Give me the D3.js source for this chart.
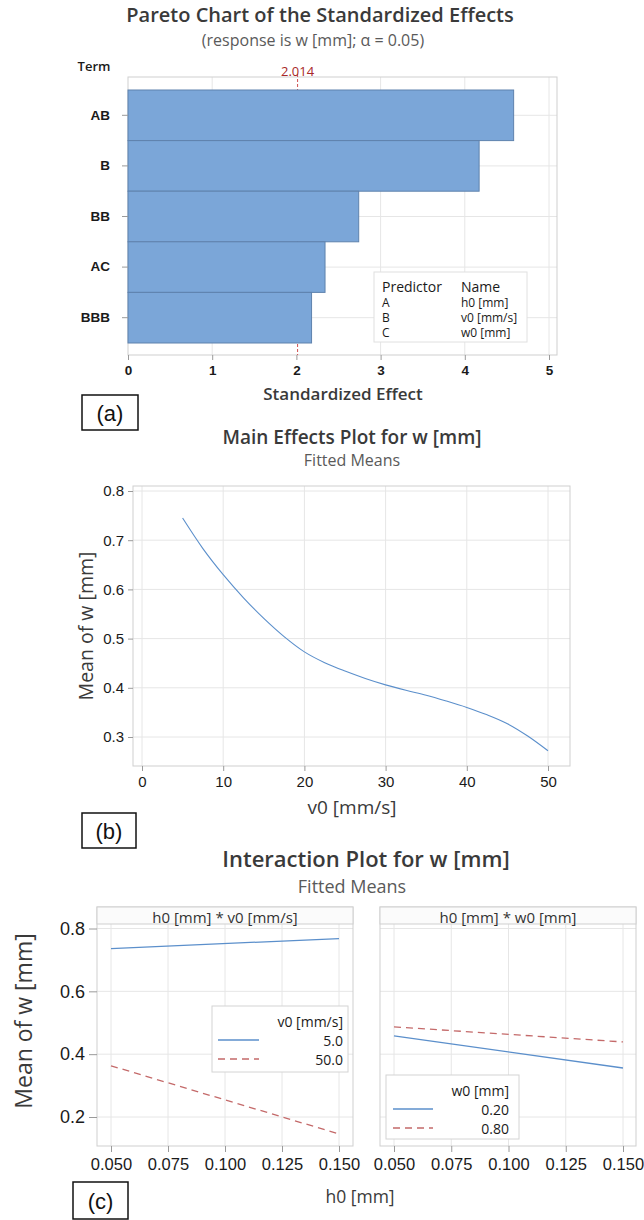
<!DOCTYPE html>
<html>
<head>
<meta charset="utf-8">
<script src="https://cdn.jsdelivr.net/npm/d3@7"></script>
<style>
  html, body { margin: 0; padding: 0; background: #fff; }
  svg { display: block; font-family: "Open Sans", "Noto Sans", sans-serif; }
</style>
</head>
<body>
<svg id="chart" width="644" height="1220"></svg>
<script>
// ---------- DATA ----------
// (a) Pareto chart
const paretoTerms = ["AB", "B", "BB", "AC", "BBB"];
const paretoEffects = [4.58, 4.17, 2.74, 2.34, 2.18];
const paretoTicks = [0, 1, 2, 3, 4, 5];
const criticalValue = 2.014;
const predictorLetters = ["A", "B", "C"];
const predictorNames = ["h0 [mm]", "v0 [mm/s]", "w0 [mm]"];

// (b) Main effects plot
const mainV0 = [5, 7.5, 10, 12.5, 15, 17.5, 20, 22.5, 25, 27.5, 30, 32.5, 35, 37.5, 40, 42.5, 45, 47.5, 50];
const mainW  = [0.745, 0.683, 0.630, 0.583, 0.541, 0.504, 0.473, 0.451, 0.434, 0.419, 0.406, 0.395, 0.385, 0.373, 0.360, 0.345, 0.327, 0.302, 0.272];
const mainXTicks = [0, 10, 20, 30, 40, 50];
const mainYTicks = [0.3, 0.4, 0.5, 0.6, 0.7, 0.8];

// (c) Interaction plot
const h0Levels = [0.05, 0.15];
const v0Levels = ["5.0", "50.0"];
const interV0 = [[0.736, 0.768], [0.363, 0.146]];
const w0Levels = ["0.20", "0.80"];
const interW0 = [[0.458, 0.356], [0.487, 0.439]];
const interXTicks = [0.05, 0.075, 0.1, 0.125, 0.15];
const interYTicks = [0.2, 0.4, 0.6, 0.8];

// ---------- STYLE ----------
const svg = d3.select("#chart");
const gridC = "#e6e6e6", frameC = "#cfcfcf", textC = "#1a1a1a", titleC = "#3a3a3a", subC = "#5a5a5a";
const blue = "#5b8fcb", red = "#c46a6a", barFill = "#7ba6d8", barStroke = "#5f82ad";

function styleAxis(g, size, weight) {
  g.select(".domain").remove();
  g.selectAll(".tick line").attr("stroke", "#9a9a9a");
  g.selectAll(".tick text").attr("fill", textC).style("font-size", size + "px").style("font-weight", weight || 400);
}
function textAt(x, y, str, size, opts) {
  opts = opts || {};
  return svg.append("text").attr("x", x).attr("y", y).text(str)
    .attr("text-anchor", opts.anchor || "middle")
    .attr("dominant-baseline", "central")
    .attr("fill", opts.color || textC)
    .style("font-size", size + "px")
    .style("font-weight", opts.weight || 400)
    .style("font-family", opts.family || null);
}
function labelBox(x0, y0, x1, y1, str) {
  svg.append("rect").attr("x", x0).attr("y", y0).attr("width", x1 - x0).attr("height", y1 - y0)
    .attr("fill", "#fff").attr("stroke", "#111").attr("stroke-width", 1.5);
  textAt((x0 + x1) / 2, (y0 + y1) / 2 + 1, str, 22, { family: "Liberation Sans", color: "#111" });
}

// ================= (a) PARETO =================
{
  const fL = 128, fR = 557, fT = 77, fB = 355;
  const x = d3.scaleLinear().domain([0, 5]).range([128, 549]);
  const y = d3.scaleBand().domain(paretoTerms).range([90, 343]).padding(0);

  textAt(320, 14, "Pareto Chart of the Standardized Effects", 20, { weight: 600, color: titleC });
  textAt(313, 40, "(response is w [mm]; \u03b1 = 0.05)", 16, { color: subC });
  textAt(94, 66, "Term", 13, { weight: 600 });

  const g = svg.append("g");
  // grid
  g.selectAll(".vg").data(paretoTicks.filter(d => d > 0 && d !== 2)).join("line")
    .attr("x1", d => x(d)).attr("x2", d => x(d)).attr("y1", fT).attr("y2", fB).attr("stroke", gridC);
  g.selectAll(".hg").data(paretoTerms).join("line")
    .attr("x1", fL).attr("x2", fR).attr("y1", d => y(d) + y.bandwidth() / 2).attr("y2", d => y(d) + y.bandwidth() / 2).attr("stroke", gridC);
  g.append("rect").attr("x", fL).attr("y", fT).attr("width", fR - fL).attr("height", fB - fT)
    .attr("fill", "none").attr("stroke", frameC);
  // reference line (behind the bars)
  g.append("line").attr("x1", x(criticalValue)).attr("x2", x(criticalValue)).attr("y1", fT - 3).attr("y2", fB)
    .attr("stroke", "#d05050").attr("stroke-dasharray", "3,2").attr("stroke-width", 1);
  // bars
  g.selectAll(".bar").data(paretoTerms).join("rect")
    .attr("x", x(0)).attr("y", d => y(d))
    .attr("width", (d, i) => x(paretoEffects[i]) - x(0)).attr("height", y.bandwidth())
    .attr("fill", barFill).attr("stroke", barStroke).attr("stroke-width", 1);
  textAt(x(criticalValue), 71, "2.014", 13, { color: "#a82828" });
  // axes
  const ax = svg.append("g").attr("transform", `translate(0,${fB})`)
    .call(d3.axisBottom(x).tickValues(paretoTicks).tickSize(5).tickPadding(5).tickFormat(d3.format("d")));
  styleAxis(ax, 13.5, 600);
  const ay = svg.append("g").attr("transform", `translate(${fL},0)`)
    .call(d3.axisLeft(y).tickSize(6).tickPadding(12));
  styleAxis(ay, 13.5, 600);
  textAt(343, 393, "Standardized Effect", 17, { weight: 600, color: titleC });

  // predictor legend
  const lg = svg.append("g");
  lg.append("rect").attr("x", 374).attr("y", 272).attr("width", 153).attr("height", 70)
    .attr("fill", "#fff").attr("stroke", "#e0e0e0");
  textAt(382, 286, "Predictor", 14, { anchor: "start" });
  textAt(461, 286, "Name", 14, { anchor: "start" });
  predictorLetters.forEach((p, i) => {
    textAt(382, 302 + i * 15, p, 12, { anchor: "start" });
    textAt(461, 302 + i * 15, predictorNames[i], 12, { anchor: "start" });
  });

  labelBox(82, 395, 138, 430, "(a)");
}

// ================= (b) MAIN EFFECTS =================
{
  const fL = 133, fR = 570, fT = 486, fB = 766;
  const x = d3.scaleLinear().domain([0, 50]).range([142, 548]);
  const y = d3.scaleLinear().domain([0.3, 0.8]).range([737, 491]);

  textAt(352, 437, "Main Effects Plot for w [mm]", 19, { weight: 600, color: titleC });
  textAt(352, 460, "Fitted Means", 16, { color: subC });

  const g = svg.append("g");
  g.selectAll(".vg").data(mainXTicks).join("line")
    .attr("x1", d => x(d)).attr("x2", d => x(d)).attr("y1", fT).attr("y2", fB).attr("stroke", gridC);
  g.selectAll(".hg").data(mainYTicks).join("line")
    .attr("x1", fL).attr("x2", fR).attr("y1", d => y(d)).attr("y2", d => y(d)).attr("stroke", gridC);
  g.append("rect").attr("x", fL).attr("y", fT).attr("width", fR - fL).attr("height", fB - fT)
    .attr("fill", "none").attr("stroke", frameC);

  const line = d3.line().x((d, i) => x(mainV0[i])).y(d => y(d)).curve(d3.curveCatmullRom.alpha(0.5));
  g.append("path").datum(mainW).attr("d", line).attr("fill", "none").attr("stroke", blue).attr("stroke-width", 1.1);

  const ax = svg.append("g").attr("transform", `translate(0,${fB})`)
    .call(d3.axisBottom(x).tickValues(mainXTicks).tickSize(5).tickPadding(5).tickFormat(d3.format("d")));
  styleAxis(ax, 15, 500);
  const ay = svg.append("g").attr("transform", `translate(${fL},0)`)
    .call(d3.axisLeft(y).tickValues(mainYTicks).tickSize(5).tickPadding(4).tickFormat(d3.format(".1f")));
  styleAxis(ay, 15, 500);

  textAt(352, 807, "v0 [mm/s]", 19, { weight: 500, color: titleC });
  svg.append("text").attr("transform", "translate(85,626) rotate(-90)")
    .attr("text-anchor", "middle").attr("dominant-baseline", "central")
    .attr("fill", titleC).style("font-size", "19.5px").style("font-weight", 500).text("Mean of w [mm]");

  labelBox(82, 813, 136, 848, "(b)");
}

// ================= (c) INTERACTION =================
{
  const fT = 907, sB = 924, fB = 1146;
  const y = d3.scaleLinear().domain([0.2, 0.8]).range([1117, 928.5]);
  const panels = [
    { fL: 97, fR: 353, xr: [111, 339], strip: "h0 [mm] * v0 [mm/s]", series: interV0, levels: v0Levels,
      legTitle: "v0 [mm/s]", leg: { x0: 212, y0: 1006, x1: 348, y1: 1072, tx: 343, ty: 1021, l0: 218, l1: 259 }, showY: true },
    { fL: 380, fR: 636, xr: [394, 623], strip: "h0 [mm] * w0 [mm]", series: interW0, levels: w0Levels,
      legTitle: "w0 [mm]", leg: { x0: 386, y0: 1075, x1: 519, y1: 1139, tx: 509, ty: 1090, l0: 393, l1: 433 }, showY: false }
  ];

  textAt(366, 858, "Interaction Plot for w [mm]", 22, { weight: 600, color: titleC });
  textAt(352, 886, "Fitted Means", 18, { color: subC });

  panels.forEach(p => {
    const x = d3.scaleLinear().domain([0.05, 0.15]).range(p.xr);
    const g = svg.append("g");
    g.selectAll(".vg").data(interXTicks).join("line")
      .attr("x1", d => x(d)).attr("x2", d => x(d)).attr("y1", sB).attr("y2", fB).attr("stroke", gridC);
    g.selectAll(".hg").data(interYTicks).join("line")
      .attr("x1", p.fL).attr("x2", p.fR).attr("y1", d => y(d)).attr("y2", d => y(d)).attr("stroke", gridC);
    g.append("rect").attr("x", p.fL).attr("y", fT).attr("width", p.fR - p.fL).attr("height", fB - fT)
      .attr("fill", "none").attr("stroke", frameC);
    g.append("rect").attr("x", p.fL).attr("y", fT).attr("width", p.fR - p.fL).attr("height", sB - fT)
      .attr("fill", "#fbfbfb").attr("stroke", frameC);
    textAt((p.fL + p.fR) / 2, (fT + sB) / 2 + 1, p.strip, 15, { color: "#333" });

    const line = d3.line().x((d, i) => x(h0Levels[i])).y(d => y(d));
    p.series.forEach((s, k) => {
      g.append("path").datum(s).attr("d", line).attr("fill", "none")
        .attr("stroke", k === 0 ? blue : red).attr("stroke-width", 1.3)
        .attr("stroke-dasharray", k === 0 ? null : "7,5");
    });

    const ax = svg.append("g").attr("transform", `translate(0,${fB})`)
      .call(d3.axisBottom(x).tickValues(interXTicks).tickSize(6).tickPadding(6).tickFormat(d3.format(".3f")));
    styleAxis(ax, 16.5, 500);
    if (p.showY) {
      const ay = svg.append("g").attr("transform", `translate(${p.fL},0)`)
        .call(d3.axisLeft(y).tickValues(interYTicks).tickSize(8).tickPadding(4).tickFormat(d3.format(".1f")));
      styleAxis(ay, 18, 500);
    }

    // legend
    const L = p.leg;
    svg.append("rect").attr("x", L.x0).attr("y", L.y0).attr("width", L.x1 - L.x0).attr("height", L.y1 - L.y0)
      .attr("fill", "#fff").attr("stroke", "#d4d4d4");
    textAt(L.tx, L.ty, p.legTitle, 14, { anchor: "end" });
    p.levels.forEach((lv, k) => {
      const yy = L.ty + 19 + k * 19;
      svg.append("line").attr("x1", L.l0).attr("x2", L.l1).attr("y1", yy).attr("y2", yy)
        .attr("stroke", k === 0 ? blue : red).attr("stroke-width", 1.3)
        .attr("stroke-dasharray", k === 0 ? null : "7,5");
      textAt(L.tx, yy, lv, 14, { anchor: "end" });
    });
  });

  textAt(360, 1196, "h0 [mm]", 17.5, { weight: 500, color: titleC });
  svg.append("text").attr("transform", "translate(23,1021) rotate(-90)")
    .attr("text-anchor", "middle").attr("dominant-baseline", "central")
    .attr("fill", titleC).style("font-size", "23px").style("font-weight", 500).text("Mean of w [mm]");

  labelBox(73, 1182, 128, 1219, "(c)");
}
</script>
</body>
</html>
